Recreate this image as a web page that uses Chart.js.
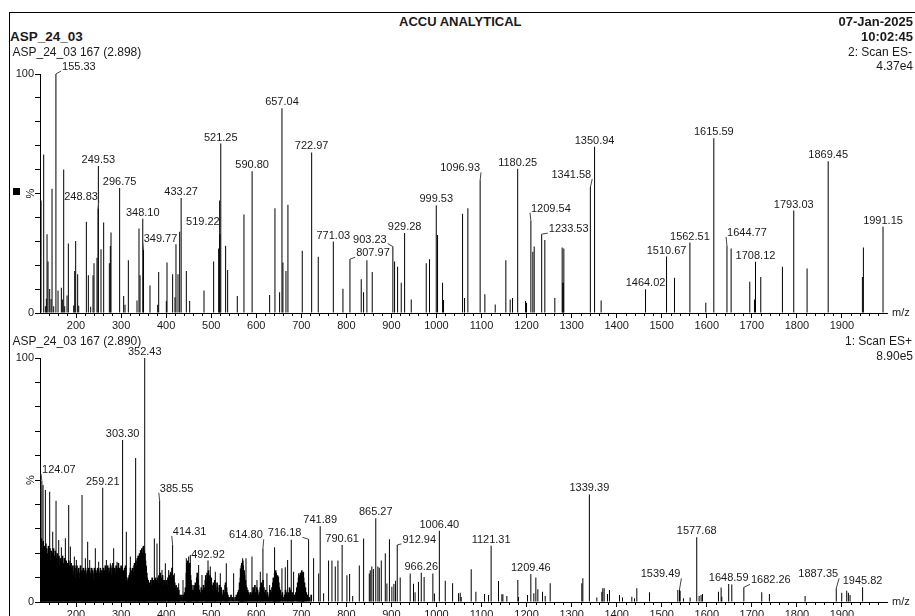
<!DOCTYPE html>
<html><head><meta charset="utf-8">
<script src="https://cdn.jsdelivr.net/npm/chart.js@4.4.1/dist/chart.umd.min.js"></script>
<style>
html,body{margin:0;padding:0;width:915px;height:616px;overflow:hidden;background:#fff;}
body{position:relative;font-family:"Liberation Sans",Arial,Helvetica,sans-serif;color:#1a1a1a;}
.t{position:absolute;white-space:nowrap;line-height:1;}
.b{font-weight:bold;}
canvas{position:absolute;left:0;}
#frame{position:absolute;left:9px;top:12px;width:930px;height:640px;border-left:1px solid #000;border-top:1px solid #000;}
#sq{position:absolute;left:13px;top:188px;width:7px;height:7px;background:#000;}
</style></head><body>
<div id="frame"></div>
<div id="sq"></div>
<canvas id="cTop" width="915" height="290" style="top:52px"></canvas>
<canvas id="cBot" width="915" height="290" style="top:342px"></canvas>
<div class="t b" style="left:399px;top:14.6px;font-size:13px">ACCU ANALYTICAL</div>
<div class="t b" style="right:2px;top:14.6px;font-size:13px">07-Jan-2025</div>
<div class="t b" style="right:2px;top:30.3px;font-size:13px">10:02:45</div>
<div class="t" style="right:3px;top:45.8px;font-size:12px">2: Scan ES-</div>
<div class="t" style="right:2px;top:60.1px;font-size:12px">4.37e4</div>
<div class="t b" style="left:10px;top:30.1px;font-size:13.5px">ASP_24_03</div>
<div class="t" style="left:12.5px;top:45.8px;font-size:12px">ASP_24_03 167 (2.898)</div>
<div class="t" style="left:12.5px;top:334.8px;font-size:12px">ASP_24_03 167 (2.890)</div>
<div class="t" style="right:3px;top:334.8px;font-size:12px">1: Scan ES+</div>
<div class="t" style="right:2px;top:349.8px;font-size:12px">8.90e5</div>
<script>
// ---------- DATA ----------
const mzTicks = [200,300,400,500,600,700,800,900,1000,1100,1200,1300,1400,1500,1600,1700,1800,1900];
const pctTicks = [0,100];

// Scan ES- (top): labelled peaks [m/z, %]
const negLabeled = [[155.33,100],[248.83,43.6],[249.53,61.5],[296.75,52.3],[348.10,39.4],[349.77,26.5],[433.27,48.1],[519.22,33],[521.25,70.9],[590.80,59.3],[657.04,85.7],[722.97,67.2],[771.03,29.9],[807.97,22.5],[903.23,27.8],[929.28,33.5],[999.53,45],[1096.93,55.5],[1180.25,60.4],[1209.54,38.6],[1233.53,33],[1341.58,52.7],[1350.94,69.6],[1464.02,9.9],[1510.67,23.6],[1562.51,29.5],[1615.59,73.1],[1644.77,28.1],[1708.12,21.4],[1793.03,42.9],[1869.45,63.5],[1991.15,36.1]];
// Scan ES- (top): unlabelled peaks
const negMinor = [[122.3,47.1],[128.2,66.3],[131.9,2.8],[134.1,6],[135.6,33],[137.8,21.5],[141.5,10],[144.5,5.9],[146.7,52],[150.4,2.8],[160,9.4],[167.4,10.6],[169.6,5.7],[172.6,60],[174.8,2.8],[180,7.3],[182.9,29.1],[194.8,3.1],[197,17.6],[199.2,30.1],[203.6,16.2],[205.9,3],[222.9,38.2],[227.3,15.8],[232.5,2.6],[237.7,15.8],[239.9,20.8],[246.5,23.1],[255.4,26.7],[261.3,37.9],[273.9,20.8],[276.1,28],[277.6,33.7],[305.7,7.1],[308.7,3.5],[316.1,22.1],[335.3,5.2],[339.7,35.4],[342,15.8],[364.1,11.5],[381.2,3.5],[383.4,17.2],[400.4,5],[401.9,21.1],[414.4,16.2],[419.6,6.6],[421.8,28.8],[426.3,16.2],[430,34],[444.8,17.6],[452.2,5],[484,9.4],[505.4,21.5],[516.5,27],[518.7,47.1],[532,28.1],[536.5,18],[557.9,7.1],[572.7,41.2],[629.7,7.5],[641.5,43.8],[651.8,8.7],[659.2,21.1],[665.9,17.6],[670.3,45.3],[702.1,26],[737.6,23.5],[792.4,10.1],[833,14.1],[838.2,8.7],[845.6,22.1],[857.4,17.2],[907,21.5],[913.7,19.4],[921.8,12.7],[944,5.7],[977.3,20.8],[984.6,22.5],[1002.4,32.6],[1013.5,12.7],[1015.7,5.4],[1057.9,41.5],[1062.3,6.3],[1069.7,43.8],[1107.4,7.8],[1130.4,3.6],[1154,22.1],[1163.6,5.7],[1168.8,6.3],[1197.7,5],[1199.9,4.3],[1213.9,25.6],[1216.9,27.8],[1240.5,30.5],[1262.7,6.3],[1279,27.4],[1280.5,12.7],[1281.2,12.7],[1282.7,27],[1365.5,5.2],[1528.3,14.8],[1597.8,4.3],[1654,27],[1695.4,13.1],[1705.8,5.7],[1719.8,15.1],[1767.9,19.4],[1822.6,18.6],[1945.4,15.1],[1947.6,27.4]];

// Scan ES+ (bottom): labelled peaks
const posLabeled = [[124.07,49.7],[259.21,46.8],[303.30,66.4],[352.43,100],[385.55,41.5],[414.31,23.4],[492.92,17],[614.80,22],[716.18,25.7],[741.89,31],[790.61,23.4],[865.27,34.3],[912.94,23.4],[966.26,12],[1006.40,29.2],[1121.31,23.1],[1209.46,11.5],[1339.39,44.1],[1539.49,5.2],[1577.68,26.5],[1648.59,7.4],[1682.26,6],[1887.35,5.6],[1945.82,6]];
// Scan ES+ (bottom): unlabelled peaks
const posMinor = [[126.7,48],[131.9,45.9],[141.5,45.2],[148.2,28.8],[155.6,41.5],[161.5,25.4],[167.4,22.4],[176.3,26.1],[183.7,39.8],[187.4,22.7],[196.2,18.6],[200.7,17.2],[213.3,43.9],[220.7,17.9],[225.8,24.7],[230.3,17.2],[235.5,13.8],[242.8,22],[250.2,16.5],[267.3,17.2],[276.1,15.9],[283.5,22],[290.9,16.5],[311.6,28.8],[320.5,18.6],[332.3,59],[339,15.9],[342.7,21.3],[348.6,22.7],[356,14.5],[373.8,26],[379.7,24],[390.8,13.1],[398.2,15.9],[405.6,13.1],[409.3,12.4],[418.1,11.8],[427.8,7.7],[437.4,9],[444.8,17.9],[450,18.6],[453.6,19.3],[472.1,15.2],[479.5,11.1],[498,14.5],[509.1,12.4],[520.2,11.8],[533.5,15.9],[549.8,11.8],[564.6,13.8],[569.8,17.9],[577.2,17.9],[590.5,18.6],[601.6,9],[609,12.4],[623.7,11.8],[629.7,7],[640.7,22.4],[649.6,10.4],[657,13.8],[664.4,14.2],[669.6,17.2],[677.7,25.5],[682.9,12.4],[694,11.8],[701.4,12.4],[705.1,12.4],[727.3,17.9],[738.5,11.7],[749.5,3.6],[760.5,17],[768,17],[775.4,14.5],[781.3,17],[801.2,11],[807.2,11.5],[814,2.5],[828.7,15],[838.3,26],[850.9,11.7],[853,13],[856.5,14.5],[860,13.5],[870,14.6],[873,14],[877.5,17],[886.4,20],[890,7.6],[895.6,25.7],[901,6.3],[905.5,7.4],[909,8.7],[919.5,10],[941.7,11.7],[949,7.5],[952.5,4],[960,8.2],[972.6,10.2],[992,11.7],[995.5,3.5],[1019.5,8.7],[1035.8,7.7],[1049,3.6],[1052.7,3.8],[1054.9,2],[1077.1,13.4],[1087.5,4.2],[1106.7,3.3],[1115.6,2.9],[1137.7,8.6],[1145.1,3.2],[1147.4,3.2],[1156.2,2.5],[1180.6,9],[1182.1,2],[1202.1,2.9],[1216.1,3.6],[1220.6,10],[1225,5.2],[1235.4,4.2],[1241.3,2.5],[1252.4,7.7],[1322.6,7.7],[1324.9,9.7],[1355.9,1.8],[1367,4.2],[1369.2,5.6],[1372.2,5.6],[1379.6,3.3],[1384,4.9],[1406.2,2.9],[1412.9,1.8],[1433.6,2.2],[1439.5,1.5],[1444.7,5.6],[1472.8,4],[1535.7,4.9],[1540.8,4.6],[1548.2,1.5],[1563,1.8],[1583,2.5],[1587.4,2.9],[1590.4,3.3],[1625.9,4.2],[1631.8,5.9],[1633.3,2.2],[1655.5,7.2],[1722,4],[1739,3.3],[1818.2,2.5],[1899.5,3.8],[1910.6,4.6],[1914.3,3.8],[1918,2.9]];
// Scan ES+ (bottom): dense low-level ions
const posNoise = [[121,24],[122,20],[123,26],[125,22],[126,18],[127,25],[129,21],[130,23],[131,17],[133,24],[134,19],[135,22],[137,20],[138,16],[139,23],
[141,19],[142,22],[144,17],[145,21],[146,15],[148,20],[149,18],[150,22],[152,16],[153,19],[154,21],[156,15],[157,18],[158,20],[160,14],
[161,17],[162,19],[164,15],[165,18],[166,13],[168,17],[169,16],[170,19],[172,14],[173,16],[174,18],[176,12],[177,15],[178,17],[180,13],[181,16],[182,14],[184,17],[185,12],[186,15],[188,13],[189,16],
[190,14],[192,12],[193,15],[194,11],[196,13],[197,15],[198,10],[200,14],[201,12],[202,15],[204,11],[205,13],[206,14],[208,10],[209,12],[210,15],[212,11],[213,13],[214,12],[216,14],[217,10],[218,13],[220,11],[221,14],[222,12],[224,10],[225,13],[226,11],[228,14],[229,12],
[230,13],[232,10],[233,12],[234,14],[236,11],[237,13],[238,9],[240,12],[241,14],[242,11],[244,13],[245,10],[246,12],[248,14],[249,11],[250,13],[252,10],[253,12],[254,14],[256,11],[257,13],[258,9],
[260,12],[261,14],[262,11],[264,13],[265,15],[266,12],[268,10],[269,13],[270,15],[272,11],[273,14],[274,12],[276,13],[277,15],[278,11],[280,14],[281,12],[282,16],[284,13],[285,11],[286,14],[288,12],[289,15],[290,13],[292,11],[293,14],[294,16],[296,12],[297,14],[298,13],
[300,15],[301,12],[302,14],[305,13],[306,11],[308,14],[309,12],[310,15],[312,10],[313,9],[314,8],[316,10],[317,9],[318,11],[320,12],[321,14],[322,10],[324,13],[325,11],[326,14],[328,12],[329,15],
[330,16],[331,13],[333,17],[334,15],[336,18],[337,16],[338,19],[340,17],[341,20],[342,18],[344,21],[345,19],[346,22],[348,20],[349,18],[350,23],[351,21],[353,20],[354,17],[355,15],[357,12],[358,10],
[360,9],[361,7],[363,8],[364,6],[366,9],[367,7],[369,10],[370,8],[372,9],[373,6],[375,8],[376,10],[378,7],[379,9],
[381,10],[382,8],[384,11],[386,9],[387,12],[389,10],[390,8],[392,11],[393,9],[395,7],[396,9],[398,6],[399,8],
[401,9],[403,7],[404,10],[406,8],[407,11],[409,9],[410,12],[412,10],[413,14],[416,11],[417,9],[419,8],[420,6],[422,7],[423,5],[425,6],[426,4],[428,5],[429,3],
[431,3],[433,2],[435,3],[437,2],[439,3],[441,4],[443,6],
[445,12],[446,16],[447,14],[448,17],[449,15],[451,13],[452,16],[454,11],[455,9],[457,7],[458,5],
[460,5],[462,7],[463,5],[465,8],[466,6],[468,10],[469,12],[470,9],[472,7],[474,5],[476,4],[478,6],[479,3],
[481,5],[483,7],[485,6],[487,9],[488,11],[489,8],[491,12],[492,10],[494,13],[495,9],[497,11],[498,8],[500,10],
[502,7],[503,5],[505,8],[506,6],[508,9],[509,7],[511,5],[513,8],[514,6],[516,4],[518,7],[520,5],[522,6],[523,4],[525,3],[527,5],[529,4],[531,7],[532,8],[534,6],[535,4],[537,3],[539,2],
[541,2],[544,3],[547,2],[550,1],[553,2],[556,3],[559,4],
[561,5],[563,8],[565,10],[566,13],[567,15],[568,16],[569,14],[570,17],[571,15],[573,13],[574,11],[576,9],[577,7],[579,6],[581,5],[583,4],[585,3],[587,4],[589,3],
[591,4],[593,6],[595,5],[597,7],[599,4],[601,6],[603,5],[605,3],[607,4],[609,6],[611,8],[613,7],[615,9],[617,6],[619,4],
[621,5],[623,3],[625,4],[627,2],[629,3],[631,5],[633,4],[635,6],[637,8],[638,10],
[639,9],[641,12],[642,11],[643,13],[644,12],[645,10],[647,11],[648,9],[650,8],[651,6],[653,5],
[655,3],[658,4],[660,2],[663,3],[665,5],[667,4],[670,3],[672,4],[674,6],[676,5],[678,3],[680,4],[682,2],[685,3],[688,4],
[690,6],[692,8],[694,10],[696,11],[698,12],[699,10],[701,13],[702,11],[704,12],[705,10],[707,8],[709,6],[711,4],
[714,3],[718,2],[722,3]];

// ---------- LAYOUT (label placement, px offsets of label centre from peak top) ----------
const negLabelShift = {'155.33':[23,-7],'248.83':[-17,-12],'349.77':[17,-11],'519.22':[-17,-12],'903.23':[-23,-7],'807.97':[23,-6],'1096.93':[-20,-12],'1341.58':[-19,-12],'1209.54':[20,-12],'1233.53':[27,-5],'1644.77':[20,-13]};
const posLabelShift = {'124.07':[17,-11],'385.55':[17,-12],'414.31':[17,-13],'614.80':[-17,-13],'716.18':[-24,-6],'912.94':[22,-5],'1539.49':[-19,-15],'1682.26':[27,-7],'1887.35':[-18,-14]};

const FONT = '"Liberation Sans", Arial, Helvetica, sans-serif';
const INK = '#1a1a1a';

const decorPlugin = {
  id: 'decor',
  afterDatasetsDraw(chart, args, opts) {
    const {ctx, chartArea: ca, scales: {x, y}} = chart;
    ctx.save();
    // minor x ticks every 20
    ctx.strokeStyle = '#000'; ctx.lineWidth = 1;
    ctx.beginPath();
    for (let v = x.min + 20; v < x.max; v += 20) {
      if (v % 100 === 0 && v >= 200 && v <= 1900) continue;
      const px = Math.round(x.getPixelForValue(v)) + 0.5;
      ctx.moveTo(px, ca.bottom); ctx.lineTo(px, ca.bottom + 3);
    }
    ctx.stroke();
    // peak labels
    ctx.font = '11px ' + FONT;
    ctx.fillStyle = INK; ctx.strokeStyle = '#444';
    ctx.textAlign = 'center'; ctx.textBaseline = 'middle';
    for (const [mz, h] of opts.labeled) {
      const txt = mz.toFixed(2);
      const px = x.getPixelForValue(mz), py = y.getPixelForValue(h);
      const sh = opts.shift[txt] || [0, -6];
      const cx = px + sh[0], cy = py + sh[1];
      const w = ctx.measureText(txt).width;
      ctx.fillText(txt, cx, cy);
      if (sh[0] !== 0) {
        const ex = sh[0] > 0 ? cx - w / 2 - 1 : cx + w / 2 + 1;
        ctx.beginPath(); ctx.moveTo(px, py); ctx.lineTo(ex, cy + 4); ctx.stroke();
      }
    }
    // m/z and % labels
    ctx.textAlign = 'left';
    ctx.fillText('m/z', ca.right + 5, ca.bottom);
    ctx.translate(31, (ca.top + ca.bottom) / 2);
    ctx.rotate(-Math.PI / 2);
    ctx.textAlign = 'center';
    ctx.fillText('%', 0, 0);
    ctx.restore();
  }
};

function makePanel(id, labeled, minor, noise, shift, padTop, axisH) {
  const toXY = arr => arr.map(p => ({x: p[0], y: p[1]}));
  return new Chart(document.getElementById(id), {
    type: 'bar',
    data: {datasets: [
      {data: toXY(noise), backgroundColor: '#000', barThickness: 1.7, borderWidth: 0, inflateAmount: 0, grouped: false},
      {data: toXY(minor.concat(labeled)), backgroundColor: '#000', barThickness: 1, borderWidth: 0, inflateAmount: 0, grouped: false}
    ]},
    options: {
      responsive: false, animation: false, events: [],
      layout: {padding: {top: padTop, right: 28, left: 0, bottom: 0}},
      plugins: {legend: {display: false}, tooltip: {enabled: false}, decor: {labeled, shift}},
      scales: {
        x: {
          type: 'linear', min: 120, max: 2000, offset: false,
          grid: {offset: false, drawOnChartArea: false, drawTicks: true, tickLength: 5, color: '#000'},
          border: {display: true, color: '#000'},
          ticks: {autoSkip: false, maxRotation: 0, padding: 1, color: INK, font: {family: FONT, size: 11},
                  callback: v => String(v)},
          afterBuildTicks: s => { s.ticks = mzTicks.map(v => ({value: v})); },
          afterFit: s => { s.height = axisH; }
        },
        y: {
          min: 0, max: 100,
          grid: {drawOnChartArea: false, drawTicks: true, tickLength: 5, color: '#000'},
          border: {display: true, color: '#000'},
          ticks: {stepSize: 10, padding: 1, color: INK, font: {family: FONT, size: 11},
                  callback: v => pctTicks.includes(v) ? String(v) : ''},
          afterFit: s => { s.width = 40; }
        }
      }
    },
    plugins: [decorPlugin]
  });
}

makePanel('cTop', negLabeled, negMinor, [], negLabelShift, 22, 29);
makePanel('cBot', posLabeled, posMinor, posNoise, posLabelShift, 16, 30);
</script>
</body></html>
